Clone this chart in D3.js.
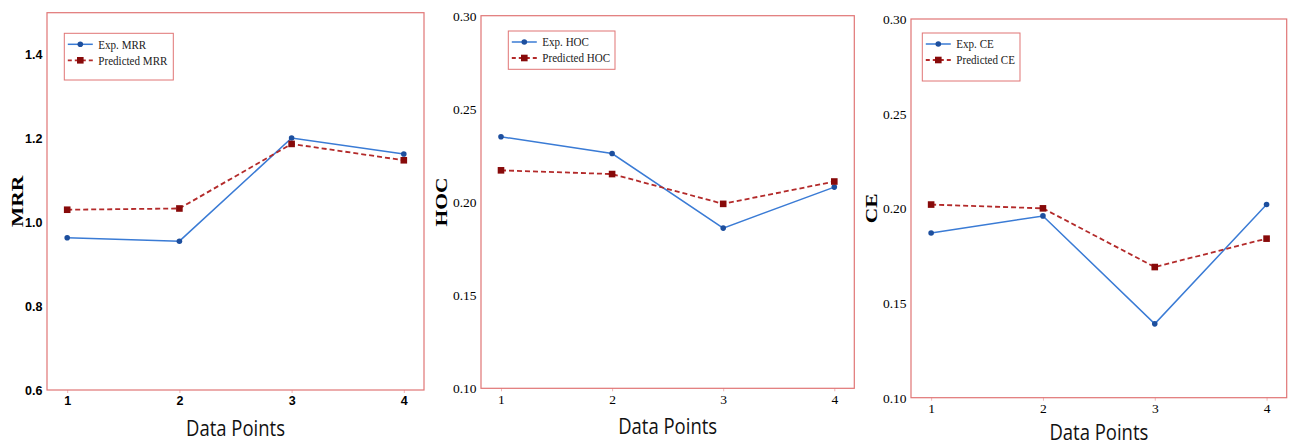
<!DOCTYPE html>
<html>
<head>
<meta charset="utf-8">
<script src="https://cdn.jsdelivr.net/npm/d3@7"></script>
<style>
  body { margin: 0; background: #fff; }
</style>
</head>
<body>
<div id="chart"></div>
<script>
// data
var points = [1, 2, 3, 4];

var expMRR = [0.963, 0.955, 1.201, 1.163];
var predMRR = [1.030, 1.033, 1.187, 1.148];

var expHOC = [0.235, 0.226, 0.186, 0.208];
var predHOC = [0.217, 0.215, 0.199, 0.211];

var expCE = [0.187, 0.196, 0.139, 0.202];
var predCE = [0.202, 0.200, 0.169, 0.184];

var mrrTicks = [0.6, 0.8, 1.0, 1.2, 1.4];
var smallTicks = [0.10, 0.15, 0.20, 0.25, 0.30];

// setup
var width = 1293,
    height = 447;

var frameColor = "#e07575",
    blue = "#3a7bd5",
    blueDot = "#1d4f9e",
    red = "#b32a2a",
    redDot = "#870a0a";

var panels = [
  { name: "MRR", exp: expMRR, pred: predMRR, domain: [0.6, 1.5], ticks: mrrTicks, fmt: ".1f",
    tickFont: "'Liberation Sans Narrow', 'Arial Narrow', sans-serif", tickSize: 12.5, tickWeight: "bold",
    box: [47, 12.7, 424, 390], legend: [17.3, 20.6, 109, 46.7], ylabX: 30, titleY: 46 },
  { name: "HOC", exp: expHOC, pred: predHOC, domain: [0.10, 0.30], ticks: smallTicks, fmt: ".2f",
    tickFont: "'Liberation Serif', 'Times New Roman', serif", tickSize: 13.5, tickWeight: "normal",
    box: [481, 15.7, 854.3, 388.3], legend: [27.3, 15.3, 106.7, 38.3], ylabX: 40, titleY: 46 },
  { name: "CE", exp: expCE, pred: predCE, domain: [0.10, 0.30], ticks: smallTicks, fmt: ".2f",
    tickFont: "'Liberation Serif', 'Times New Roman', serif", tickSize: 13.5, tickWeight: "normal",
    box: [911, 19, 1286.7, 397.7], legend: [11.3, 14, 97.7, 48], ylabX: 40, titleY: 42 }
];

var svg = d3.select("#chart").append("svg")
    .attr("width", width)
    .attr("height", height);

panels.forEach(function (p) {
  var x0 = p.box[0], y0 = p.box[1], x1 = p.box[2], y1 = p.box[3];

  var xScale = d3.scaleLinear()
      .domain([0.82, 4.18])
      .range([x0, x1]);

  var yScale = d3.scaleLinear()
      .domain(p.domain)
      .range([y1, y0]);

  var g = svg.append("g");

  //y axis
  var ya = g.append("g")
      .attr("transform", "translate(" + x0 + ",0)")
      .call(d3.axisLeft(yScale).tickValues(p.ticks).tickFormat(d3.format(p.fmt)).tickSize(0).tickPadding(4.5));
  ya.select(".domain").remove();
  ya.selectAll("text")
      .style("font-family", p.tickFont)
      .style("font-size", p.tickSize + "px")
      .style("font-weight", p.tickWeight)
      .attr("fill", "#000");

  //x axis
  var xa = g.append("g")
      .attr("transform", "translate(0," + y1 + ")")
      .call(d3.axisBottom(xScale).tickValues(points).tickFormat(d3.format("d")).tickSize(3).tickPadding(3));
  xa.select(".domain").remove();
  xa.selectAll(".tick line").attr("stroke", "#f0b5b5");
  xa.selectAll("text")
      .style("font-family", p.tickFont)
      .style("font-size", p.tickSize + "px")
      .style("font-weight", p.tickWeight)
      .attr("fill", "#000");

  //frame
  g.append("rect")
      .attr("x", x0)
      .attr("y", y0)
      .attr("width", x1 - x0)
      .attr("height", y1 - y0)
      .attr("fill", "none")
      .attr("stroke", frameColor)
      .attr("stroke-width", 1.2);

  //axis labels
  g.append("text")
      .attr("transform", "translate(" + (x0 - p.ylabX) + "," + ((y0 + y1) / 2) + ") rotate(-90) scale(1.1,0.82)")
      .attr("dy", "0.35em")
      .attr("text-anchor", "middle")
      .style("font-family", "'Liberation Serif', 'Times New Roman', serif")
      .style("font-weight", "bold")
      .style("font-size", "19.5px")
      .text(p.name);

  g.append("text")
      .attr("transform", "translate(" + ((x0 + x1) / 2) + "," + (y1 + p.titleY) + ") scale(0.88,1)")
      .attr("text-anchor", "middle")
      .style("font-family", "'Open Sans', sans-serif")
      .style("font-size", "21px")
      .attr("fill", "#111")
      .text("Data Points");

  //lines
  var line = d3.line()
      .x(function (d, i) { return xScale(points[i]); })
      .y(function (d) { return yScale(d); });

  g.append("path")
      .attr("d", line(p.exp))
      .attr("stroke", blue)
      .attr("stroke-width", 1.5)
      .attr("fill", "none");

  g.append("path")
      .attr("d", line(p.pred))
      .attr("stroke", red)
      .attr("stroke-width", 1.8)
      .attr("stroke-dasharray", "5,3")
      .attr("fill", "none");

  g.selectAll(".dot")
      .data(p.exp)
      .enter().append("circle")
      .attr("cx", function (d, i) { return xScale(points[i]); })
      .attr("cy", function (d) { return yScale(d); })
      .attr("r", 2.8)
      .attr("fill", blueDot);

  g.selectAll(".sq")
      .data(p.pred)
      .enter().append("rect")
      .attr("x", function (d, i) { return xScale(points[i]) - 3.3; })
      .attr("y", function (d) { return yScale(d) - 3.3; })
      .attr("width", 6.6)
      .attr("height", 6.6)
      .attr("fill", redDot);

  //legend
  var lx = x0 + p.legend[0], ly = y0 + p.legend[1];
  var lg = g.append("g").attr("transform", "translate(" + lx + "," + ly + ")");
  lg.append("rect")
      .attr("width", p.legend[2])
      .attr("height", p.legend[3])
      .attr("fill", "#fff")
      .attr("stroke", frameColor)
      .attr("stroke-width", 1);

  var rows = [
    { label: "Exp. " + p.name, color: blue, dot: blueDot, dash: null, y: 11 },
    { label: "Predicted " + p.name, color: red, dot: redDot, dash: "4,3", y: 27 }
  ];
  rows.forEach(function (r, i) {
    lg.append("line")
        .attr("x1", 3.5).attr("x2", 28.5)
        .attr("y1", r.y).attr("y2", r.y)
        .attr("stroke", r.color)
        .attr("stroke-width", i ? 1.8 : 1.5)
        .attr("stroke-dasharray", r.dash);
    if (i === 0) {
      lg.append("circle").attr("cx", 16).attr("cy", r.y).attr("r", 2.8).attr("fill", r.dot);
    } else {
      lg.append("rect").attr("x", 12.7).attr("y", r.y - 3.3).attr("width", 6.6).attr("height", 6.6).attr("fill", r.dot);
    }
    lg.append("text")
        .attr("transform", "translate(34," + r.y + ") scale(0.82,1)")
        .attr("dy", "0.32em")
        .style("font-family", "'Liberation Serif', 'Times New Roman', serif")
        .style("font-size", "13.5px")
        .attr("fill", "#222")
        .text(r.label);
  });
});
</script>
</body>
</html>
